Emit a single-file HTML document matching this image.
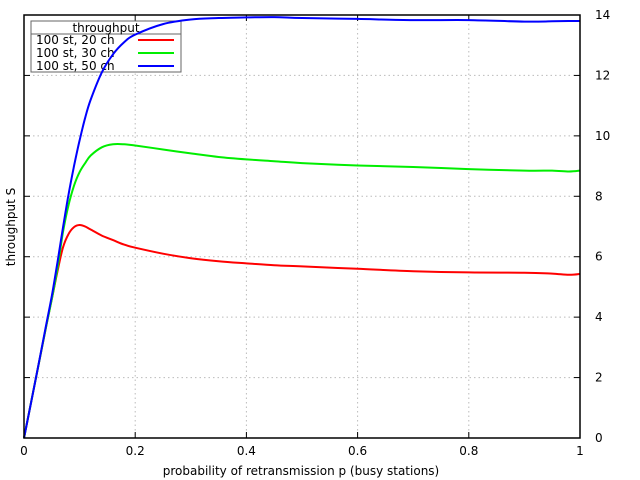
<!DOCTYPE html>
<html><head><meta charset="utf-8"><style>
body{margin:0;background:#fff;}
svg{display:block;font-family:"DejaVu Sans","Liberation Sans",sans-serif;}
</style></head><body>
<svg id="chart" width="640" height="480"></svg>
<script>
const pValues=[0,0.02,0.04,0.05,0.06,0.07,0.08,0.09,0.1,0.11,0.12,0.14,0.16,0.18,0.2,0.25,0.3,0.35,0.4,0.45,0.5,0.6,0.7,0.8,0.9,0.95,0.98,1];
const series20=[0,1.85,3.7,4.6,5.5,6.3,6.75,6.98,7.05,7.0,6.9,6.7,6.55,6.4,6.3,6.1,5.95,5.85,5.78,5.72,5.68,5.6,5.52,5.48,5.47,5.44,5.4,5.43];
const series30=[0,1.85,3.7,4.6,5.6,6.8,7.7,8.35,8.8,9.1,9.35,9.62,9.72,9.72,9.68,9.55,9.42,9.3,9.22,9.16,9.1,9.02,8.97,8.9,8.85,8.85,8.82,8.85];
const series50=[0,1.85,3.75,4.7,5.8,6.95,8.05,9.0,9.85,10.6,11.2,12.1,12.7,13.1,13.35,13.7,13.85,13.9,13.92,13.93,13.9,13.87,13.83,13.83,13.78,13.79,13.8,13.8];
const xTicks=[0,0.2,0.4,0.6,0.8,1];
const yTicks=[0,2,4,6,8,10,12,14];
const seriesNames=["100 st, 20 ch","100 st, 30 ch","100 st, 50 ch"];
const colors=["#ff0000","#00ee00","#0000ff"];
const L=24,R=580,T=15,B=438;
const xs=p=>L+(R-L)*p;
const ys=v=>B-(B-T)*v/14;
const svg=document.getElementById('chart');
const NS='http://www.w3.org/2000/svg';
function mk(tag,attrs,parent){const e=document.createElementNS(NS,tag);for(const k in attrs)e.setAttribute(k,attrs[k]);(parent||svg).appendChild(e);return e;}
function smooth(pts){let d='M'+pts[0][0].toFixed(1)+','+pts[0][1].toFixed(1);
 for(let i=0;i<pts.length-1;i++){const p0=pts[Math.max(0,i-1)],p1=pts[i],p2=pts[i+1],p3=pts[Math.min(pts.length-1,i+2)];
 const c1=[p1[0]+(p2[0]-p0[0])/6,p1[1]+(p2[1]-p0[1])/6],c2=[p2[0]-(p3[0]-p1[0])/6,p2[1]-(p3[1]-p1[1])/6];
 d+=' C'+c1[0].toFixed(1)+','+c1[1].toFixed(1)+' '+c2[0].toFixed(1)+','+c2[1].toFixed(1)+' '+p2[0].toFixed(1)+','+p2[1].toFixed(1);}
 return d;}
xTicks.forEach(t=>{if(t>0&&t<1){const g=mk('line',{x1:xs(t),x2:xs(t),y1:T,y2:B,stroke:'#bbb','stroke-dasharray':'1.5,3'});

}});
yTicks.forEach(t=>{if(t>0&&t<14){const g=mk('line',{x1:L,x2:R,y1:ys(t),y2:ys(t),stroke:'#bbb','stroke-dasharray':'1.5,3'});

}});
xTicks.forEach(t=>{
 mk('line',{x1:xs(t),x2:xs(t),y1:B,y2:B-6,stroke:'#000'});
 mk('line',{x1:xs(t),x2:xs(t),y1:T,y2:T+6,stroke:'#000'});
 const tx=mk('text',{x:xs(t),y:455,'font-size':12,'text-anchor':'middle'});tx.textContent=String(t);
 
 
});
yTicks.forEach(t=>{
 mk('line',{x1:R,x2:R-6,y1:ys(t),y2:ys(t),stroke:'#000'});
 mk('line',{x1:L,x2:L+6,y1:ys(t),y2:ys(t),stroke:'#000'});
 const tx=mk('text',{x:595,y:ys(t)+4,'font-size':12});tx.textContent=String(t);
 
 
});
const lg=mk('g',{});


mk('rect',{x:31,y:21,width:150,height:51,fill:'#fff',stroke:'#666','stroke-width':1},lg);
mk('line',{x1:31,x2:181,y1:34,y2:34,stroke:'#666'},lg);
const lt=mk('text',{x:106,y:32,'font-size':12,'text-anchor':'middle'},lg);lt.textContent='throughput';
seriesNames.forEach((n,i)=>{
 const y=40+i*13;
 const t=mk('text',{x:36,y:y+4,'font-size':12},lg);t.textContent=n;
 
 
 mk('line',{x1:138,x2:174,y1:y,y2:y,stroke:colors[i],'stroke-width':2},lg);
});
[series20,series30,series50].forEach((s,i)=>{
 const pts=s.map((v,j)=>[xs(pValues[j]),ys(v)]);
 const p=mk('path',{d:smooth(pts),fill:'none',stroke:colors[i],'stroke-width':2,'stroke-linejoin':'round'});
 
 
});
const fr=mk('rect',{x:L,y:T,width:R-L,height:B-T,fill:'none',stroke:'#000','stroke-width':1.5});


const xt=mk('text',{x:301,y:475,'font-size':12,'text-anchor':'middle'});xt.textContent='probability of retransmission p (busy stations)';


const yt=mk('text',{x:15,y:227,'font-size':12,'text-anchor':'middle',transform:'rotate(-90 15 227)'});yt.textContent='throughput S';


</script>
</body></html>
